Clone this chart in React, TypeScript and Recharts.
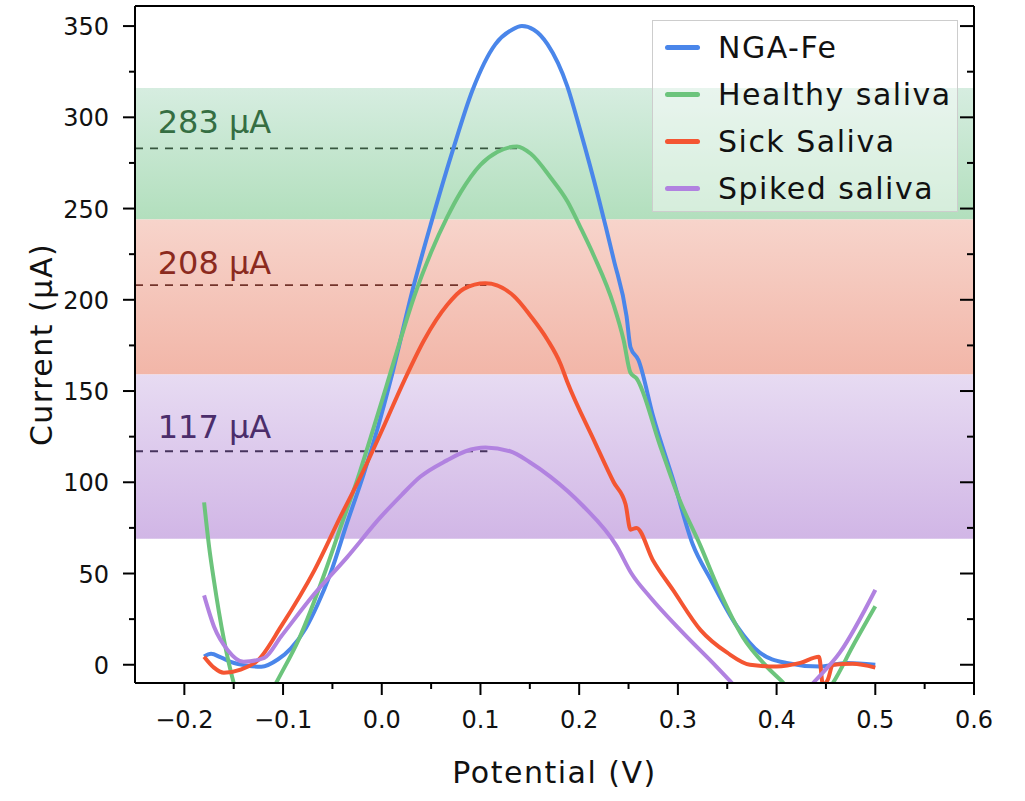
import React from "react";
import {
  LineChart,
  Line,
  XAxis,
  YAxis,
  ReferenceArea,
  ReferenceLine,
  ReferenceDot,
  Legend,
} from "recharts";

type Pt = [number, number];

// potential (V), current (µA)
const ngaFe: Pt[] = [
  [-0.18, 4.5], [-0.173, 6], [-0.163, 4], [-0.153, 1.6], [-0.136, -0.5], [-0.122, -1.1],
  [-0.105, 3], [-0.092, 9], [-0.077, 20], [-0.065, 33], [-0.052, 50], [-0.035, 78],
  [-0.018, 105], [-0.004, 130], [0.009, 156], [0.032, 207], [0.05, 242], [0.072, 282],
  [0.092, 315], [0.115, 340], [0.132, 348], [0.142, 350], [0.154, 348], [0.168, 340],
  [0.188, 317], [0.201, 293], [0.22, 255], [0.235, 222], [0.248, 191], [0.252, 174],
  [0.26, 167], [0.275, 136], [0.296, 100], [0.315, 66], [0.333, 47], [0.36, 21],
  [0.383, 6.6], [0.41, 1], [0.444, -1], [0.471, 1], [0.5, 0],
];

const healthy: Pt[] = [
  [-0.18, 89], [-0.175, 65], [-0.17, 46], [-0.16, 14], [-0.15, -10], [-0.13, -35],
  [-0.107, -10], [-0.084, 14], [-0.058, 50], [-0.042, 75], [-0.025, 101], [-0.011, 125],
  [0.006, 155], [0.02, 180], [0.033, 202], [0.05, 226], [0.066, 245], [0.08, 259],
  [0.1, 274], [0.117, 281], [0.137, 284], [0.151, 280], [0.171, 267], [0.188, 254],
  [0.201, 240], [0.215, 224], [0.235, 197], [0.245, 178], [0.252, 160], [0.258, 157],
  [0.282, 120], [0.302, 90], [0.323, 65], [0.34, 43], [0.366, 15], [0.39, -1],
  [0.407, -10], [0.43, -25], [0.457, -10], [0.477, 10], [0.5, 32],
];

const sick: Pt[] = [
  [-0.18, 4.4], [-0.17, -1.6], [-0.16, -4.4], [-0.143, -2.7], [-0.125, 2.7], [-0.102, 21],
  [-0.068, 52], [-0.042, 81], [-0.018, 107], [-0.001, 127], [0.023, 156], [0.043, 178],
  [0.066, 197], [0.083, 206], [0.105, 209], [0.134, 202], [0.151, 191], [0.168, 178],
  [0.181, 165], [0.188, 155], [0.215, 123], [0.235, 100], [0.247, 88], [0.252, 74],
  [0.258, 75], [0.275, 57], [0.295, 41], [0.323, 19], [0.35, 6.6], [0.373, 0],
  [0.4, -1], [0.424, 1], [0.443, 4.4], [0.447, -11], [0.452, -8], [0.457, 0],
  [0.477, 0.5], [0.5, -1.6],
];

const spiked: Pt[] = [
  [-0.18, 38], [-0.17, 21], [-0.156, 8], [-0.14, 1.6], [-0.119, 3.8], [-0.102, 15.5],
  [-0.068, 39], [-0.035, 59], [-0.001, 81], [0.02, 93], [0.039, 103], [0.066, 112],
  [0.085, 117], [0.105, 119], [0.13, 117], [0.15, 111], [0.171, 103], [0.204, 87],
  [0.238, 65], [0.253, 50], [0.272, 37], [0.305, 17.6], [0.339, -1], [0.353, -9],
  [0.395, -35], [0.437, -10], [0.464, 6.6], [0.5, 41],
];

const series = [
  { name: "NGA-Fe", color: "#4a86ea", pts: ngaFe },
  { name: "Healthy saliva", color: "#6cc47c", pts: healthy },
  { name: "Sick Saliva", color: "#f45532", pts: sick },
  { name: "Spiked saliva", color: "#b182e0", pts: spiked },
];

// shaded ranges (µA) and peak markers
const bands = [
  { id: "gGreen", y1: 244, y2: 316, top: "#d6ede0", bottom: "#b2dfbd" },
  { id: "gRed", y1: 159, y2: 244, top: "#f7d4cb", bottom: "#f2b6a8" },
  { id: "gPurple", y1: 69, y2: 159, top: "#e7dbf2", bottom: "#d1b6e6" },
];

const peaks = [
  { value: 283, xEnd: 0.137, text: "283 µA", line: "#37573f", color: "#356e42", labelY: 291.5 },
  { value: 208, xEnd: 0.106, text: "208 µA", line: "#73342b", color: "#8b2a1e", labelY: 214 },
  { value: 117, xEnd: 0.107, text: "117 µA", line: "#47345e", color: "#4b2d6b", labelY: 124 },
];

const xMajor = [-0.2, -0.1, 0, 0.1, 0.2, 0.3, 0.4, 0.5, 0.6];
const xMinor = [-0.15, -0.05, 0.05, 0.15, 0.25, 0.35, 0.45, 0.55];
const yMajor = [0, 50, 100, 150, 200, 250, 300, 350];
const yMinor = [25, 75, 125, 175, 225, 275, 325];

const xTicks = [...xMajor, ...xMinor].sort((a, b) => a - b);
const yTicks = [...yMajor, ...yMinor].sort((a, b) => a - b);

const FONT = "'DejaVu Sans', sans-serif";

const isIn = (v: number, list: number[]) => list.some((m) => Math.abs(m - v) < 1e-6);
const fmtX = (v: number) => (v < 0 ? "\u2212" + Math.abs(v).toFixed(1) : v.toFixed(1));

function BottomTick({ x, y, payload }: any) {
  const major = isIn(payload.value, xMajor);
  return (
    <g>
      <line x1={x} x2={x} y1={y} y2={y + (major ? 12 : 6)} stroke="#000" strokeWidth={2} />
      {major && (
        <text x={x} y={y + 45} textAnchor="middle" fontSize={24} fontFamily={FONT} fill="#111">
          {fmtX(payload.value)}
        </text>
      )}
    </g>
  );
}

function TopTick({ x, y, payload }: any) {
  const major = isIn(payload.value, xMajor);
  return <line x1={x} x2={x} y1={y} y2={y + (major ? 13 : 7)} stroke="#000" strokeWidth={2} />;
}

function LeftTick({ x, y, payload }: any) {
  const major = isIn(payload.value, yMajor);
  return (
    <g>
      <line x1={x} x2={x - (major ? 12 : 6)} y1={y} y2={y} stroke="#000" strokeWidth={2} />
      {major && (
        <text x={x - 26} y={y + 9} textAnchor="end" fontSize={24} fontFamily={FONT} fill="#111">
          {payload.value}
        </text>
      )}
    </g>
  );
}

function RightTick({ x, y, payload }: any) {
  const major = isIn(payload.value, yMajor);
  return <line x1={x} x2={x - (major ? 14 : 7)} y1={y} y2={y} stroke="#000" strokeWidth={2} />;
}

function LegendBox() {
  return (
    <div
      style={{
        width: 306,
        height: 192,
        boxSizing: "border-box",
        background: "rgba(255,255,255,0.45)",
        border: "1px solid #cdcdcd",
        paddingTop: 3,
      }}
    >
      {series.map((s) => (
        <div key={s.name} style={{ display: "flex", alignItems: "center", height: 47 }}>
          <div
            style={{ width: 35, height: 5, borderRadius: 3, background: s.color, marginLeft: 12, marginRight: 18 }}
          />
          <span style={{ fontFamily: FONT, fontSize: 30, letterSpacing: 1.5, color: "#111", whiteSpace: "nowrap" }}>
            {s.name}
          </span>
        </div>
      ))}
    </div>
  );
}

export default function App() {
  const axisLine = { stroke: "#000", strokeWidth: 2 };
  return (
    <div style={{ position: "absolute", left: 0, top: 0 }}>
      <LineChart width={1000} height={798} margin={{ top: 5, right: 25, bottom: 114, left: 134 }}>
        <defs>
          {bands.map((b) => (
            <linearGradient key={b.id} id={b.id} x1="0" y1="0" x2="0" y2="1">
              <stop offset="0%" stopColor={b.top} />
              <stop offset="100%" stopColor={b.bottom} />
            </linearGradient>
          ))}
        </defs>
        <XAxis
          xAxisId="b"
          type="number"
          dataKey="x"
          domain={[-0.25, 0.6]}
          allowDataOverflow
          ticks={xTicks}
          interval={0}
          height={1}
          tickSize={0}
          tickMargin={0}
          tickLine={false}
          axisLine={axisLine}
          tick={(p: any) => <BottomTick {...p} />}
          label={{
            content: ({ viewBox }: any) => (
              <text
                x={viewBox.x + viewBox.width / 2}
                y={viewBox.y + 100}
                textAnchor="middle"
                fontSize={30}
                letterSpacing={1.5}
                fontFamily={FONT}
                fill="#111"
              >
                Potential (V)
              </text>
            ),
          }}
        />
        <XAxis
          xAxisId="t"
          orientation="top"
          type="number"
          domain={[-0.25, 0.6]}
          allowDataOverflow
          ticks={xTicks}
          interval={0}
          height={1}
          tickSize={0}
          tickMargin={0}
          tickLine={false}
          axisLine={axisLine}
          tick={(p: any) => <TopTick {...p} />}
        />
        <YAxis
          yAxisId="l"
          type="number"
          domain={[-10, 361]}
          allowDataOverflow
          ticks={yTicks}
          interval={0}
          width={1}
          tickSize={0}
          tickMargin={0}
          tickLine={false}
          axisLine={axisLine}
          tick={(p: any) => <LeftTick {...p} />}
          label={{
            content: ({ viewBox }: any) => {
              const cx = viewBox.x - 93;
              const cy = viewBox.y + viewBox.height / 2;
              return (
                <text
                  x={cx}
                  y={cy}
                  transform={`rotate(-90, ${cx}, ${cy})`}
                  textAnchor="middle"
                  dominantBaseline="central"
                  fontSize={30}
                  letterSpacing={1.5}
                  fontFamily={FONT}
                  fill="#111"
                >
                  Current (µA)
                </text>
              );
            },
          }}
        />
        <YAxis
          yAxisId="r"
          orientation="right"
          type="number"
          domain={[-10, 361]}
          allowDataOverflow
          ticks={yTicks}
          interval={0}
          width={1}
          tickSize={0}
          tickMargin={0}
          tickLine={false}
          axisLine={axisLine}
          tick={(p: any) => <RightTick {...p} />}
        />

        {bands.map((b) => (
          <ReferenceArea
            key={b.id}
            xAxisId="b"
            yAxisId="l"
            y1={b.y1}
            y2={b.y2}
            fill={`url(#${b.id})`}
            fillOpacity={1}
            stroke="none"
          />
        ))}

        {peaks.map((p) => (
          <ReferenceLine
            key={"l" + p.value}
            xAxisId="b"
            yAxisId="l"
            segment={[
              { x: -0.25, y: p.value },
              { x: p.xEnd, y: p.value },
            ]}
            stroke={p.line}
            strokeWidth={1.8}
            strokeDasharray="8 7"
          />
        ))}

        {series.map((s) => (
          <Line
            key={s.name}
            xAxisId="b"
            yAxisId="l"
            name={s.name}
            data={s.pts.map(([x, y]) => ({ x, y }))}
            dataKey="y"
            type="monotone"
            stroke={s.color}
            strokeWidth={4}
            dot={false}
            isAnimationActive={false}
          />
        ))}

        {peaks.map((p) => (
          <ReferenceDot
            key={"t" + p.value}
            xAxisId="b"
            yAxisId="l"
            x={-0.227}
            y={p.labelY}
            r={0}
            stroke="none"
            fill="none"
            label={{
              content: ({ viewBox }: any) => (
                <text x={viewBox.x} y={viewBox.y} fontSize={32} fontFamily={FONT} fill={p.color}>
                  {p.text}
                </text>
              ),
            }}
          />
        ))}

        <Legend
          layout="vertical"
          align="center"
          verticalAlign="middle"
          wrapperStyle={{ left: 652, top: 20, width: 306, height: 192 }}
          content={() => <LegendBox />}
        />
      </LineChart>
    </div>
  );
}
